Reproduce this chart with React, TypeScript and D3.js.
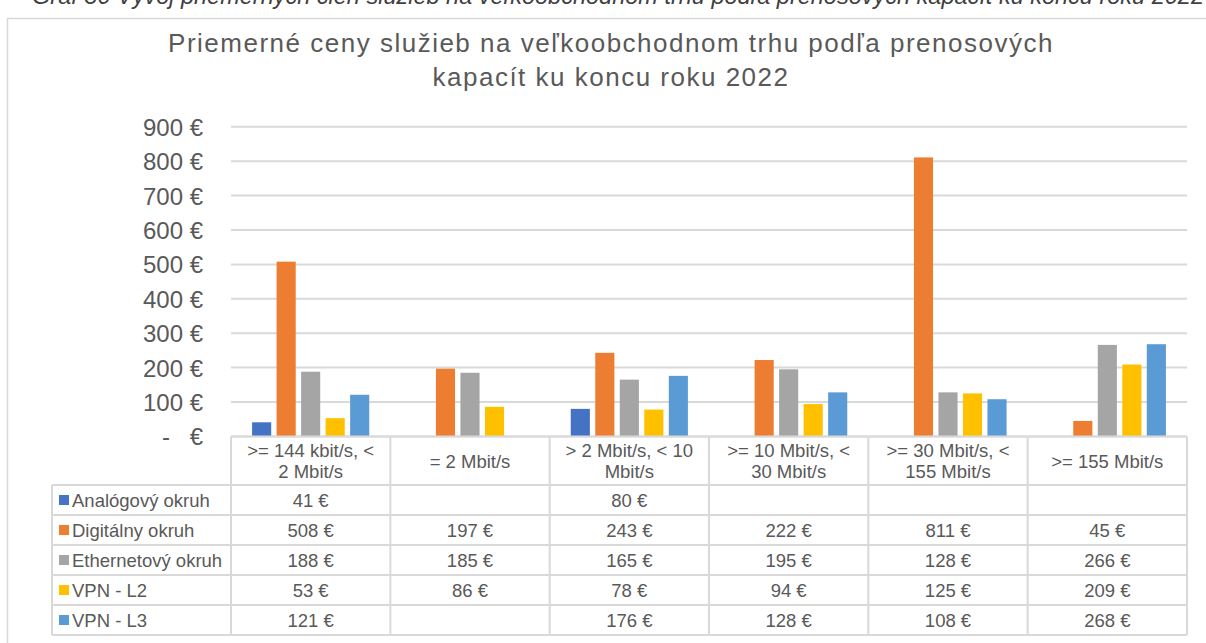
import React from "react";
import * as d3 from "d3";

const categories = [
  ">= 144 kbit/s, <\n2 Mbit/s",
  "= 2 Mbit/s",
  "> 2 Mbit/s, < 10\nMbit/s",
  ">= 10 Mbit/s, <\n30 Mbit/s",
  ">= 30 Mbit/s, <\n155 Mbit/s",
  ">= 155 Mbit/s",
];
const seriesNames = ["Analógový okruh", "Digitálny okruh", "Ethernetový okruh", "VPN - L2", "VPN - L3"];
const analogovy = [41, null, 80, null, null, null];
const digitalny = [508, 197, 243, 222, 811, 45];
const ethernetovy = [188, 185, 165, 195, 128, 266];
const vpnL2 = [53, 86, 78, 94, 125, 209];
const vpnL3 = [121, null, 176, 128, 108, 268];
const seriesValues: (number | null)[][] = [analogovy, digitalny, ethernetovy, vpnL2, vpnL3];
const colors = ["#4472C4", "#ED7D31", "#A5A5A5", "#FFC000", "#5B9BD5"];
const yTicks = [0, 100, 200, 300, 400, 500, 600, 700, 800, 900];
const titleLines = ["Priemerné ceny služieb na veľkoobchodnom trhu podľa prenosových", "kapacít ku koncu roku 2022"];
const caption = "Graf 30 Vývoj priemerných cien služieb na veľkoobchodnom trhu podľa prenosových kapacít ku koncu roku 2022";

const W = 1206;
const H = 643;
const plotLeft = 231;
const plotRight = 1187;
const plotTop = 126.8;
const plotBottom = 436.4;
const headerBottom = 485;
const rowH = 30;
const legendLeft = 52;
const textColor = "#595959";
const gridColor = "#D9D9D9";
const font = "Arial, 'Liberation Sans', Helvetica, sans-serif";

const fmt = (v: number | null) => (v == null ? "" : `${v} €`);

export default function App() {
  const x0 = d3.scaleBand<number>().domain(d3.range(categories.length)).range([plotLeft, plotRight]).paddingInner(0).paddingOuter(0);
  const x1 = d3
    .scaleBand<number>()
    .domain(d3.range(seriesNames.length))
    .range([0, x0.bandwidth()])
    .paddingInner(0.22)
    .paddingOuter(0.86);
  const y = d3.scaleLinear().domain([0, 900]).range([plotBottom, plotTop]);

  const colEdges = [...d3.range(categories.length).map((i) => x0(i)!), plotRight];
  const tableBottom = headerBottom + rowH * seriesNames.length;

  return (
    <svg
      width={W}
      height={H}
      style={{ position: "absolute", left: 0, top: 0, background: "#fff" }}
      fontFamily={font}
    >
      <rect x={0} y={0} width={W} height={H} fill="#fff" />
      {/* cut-off caption */}
      <text x={W - 2} y={4} textAnchor="end" fontSize={23.5} fontStyle="italic" fill="#404040">
        {caption}
      </text>
      {/* outer chart border */}
      <rect x={7.5} y={18.5} width={W + 10} height={H + 10} fill="none" stroke={gridColor} strokeWidth={1.5} />

      {/* title */}
      {titleLines.map((t, i) => (
        <text
          key={i}
          x={611}
          y={52 + i * 34}
          textAnchor="middle"
          fontSize={26}
          letterSpacing={1.5}
          fill={textColor}
        >
          {t}
        </text>
      ))}

      {/* gridlines */}
      {yTicks.map((t) => (
        <line key={t} x1={plotLeft} x2={plotRight} y1={y(t)} y2={y(t)} stroke={gridColor} strokeWidth={2} />
      ))}

      {/* y tick labels */}
      {yTicks.map((t) =>
        t === 0 ? (
          <g key={t}>
            <text x={170} y={y(t) + 9} textAnchor="end" fontSize={24} fill={textColor}>
              -
            </text>
            <text x={203} y={y(t) + 9} textAnchor="end" fontSize={24} fill={textColor}>
              €
            </text>
          </g>
        ) : (
          <text key={t} x={203} y={y(t) + 9} textAnchor="end" fontSize={24} fill={textColor}>
            {`${t} €`}
          </text>
        )
      )}

      {/* bars */}
      {seriesValues.map((vals, s) =>
        vals.map((v, c) =>
          v == null ? null : (
            <rect
              key={`${s}-${c}`}
              x={x0(c)! + x1(s)!}
              y={y(v)}
              width={x1.bandwidth()}
              height={plotBottom - y(v)}
              fill={colors[s]}
            />
          )
        )
      )}

      {/* data table */}
      <g stroke={gridColor} strokeWidth={2} fill="none">
        <line x1={plotLeft} x2={plotRight} y1={plotBottom} y2={plotBottom} />
        {d3.range(seriesNames.length + 1).map((r) => (
          <line key={r} x1={legendLeft} x2={plotRight} y1={headerBottom + r * rowH} y2={headerBottom + r * rowH} />
        ))}
        {colEdges.map((xe, i) => (
          <line key={i} x1={xe} x2={xe} y1={plotBottom} y2={tableBottom} />
        ))}
        <line x1={legendLeft} x2={legendLeft} y1={headerBottom} y2={tableBottom} />
      </g>

      {/* header labels */}
      {categories.map((c, i) => {
        const lines = c.split("\n");
        const cx = x0(i)! + x0.bandwidth() / 2;
        const cy = (plotBottom + headerBottom) / 2;
        return (
          <text key={i} textAnchor="middle" fontSize={18.5} fill={textColor}>
            {lines.map((l, j) => (
              <tspan key={j} x={cx} y={cy + 7 + (j - (lines.length - 1) / 2) * 21}>
                {l}
              </tspan>
            ))}
          </text>
        );
      })}

      {/* legend rows and values */}
      {seriesNames.map((name, s) => {
        const cy = headerBottom + s * rowH + rowH / 2;
        return (
          <g key={name}>
            <rect x={59} y={cy - 5} width={10} height={10} fill={colors[s]} />
            <text x={72} y={cy + 7} fontSize={18.5} fill={textColor}>
              {name}
            </text>
            {seriesValues[s].map((v, c) => (
              <text key={c} x={x0(c)! + x0.bandwidth() / 2} y={cy + 7} textAnchor="middle" fontSize={18.5} fill={textColor}>
                {fmt(v)}
              </text>
            ))}
          </g>
        );
      })}
    </svg>
  );
}
